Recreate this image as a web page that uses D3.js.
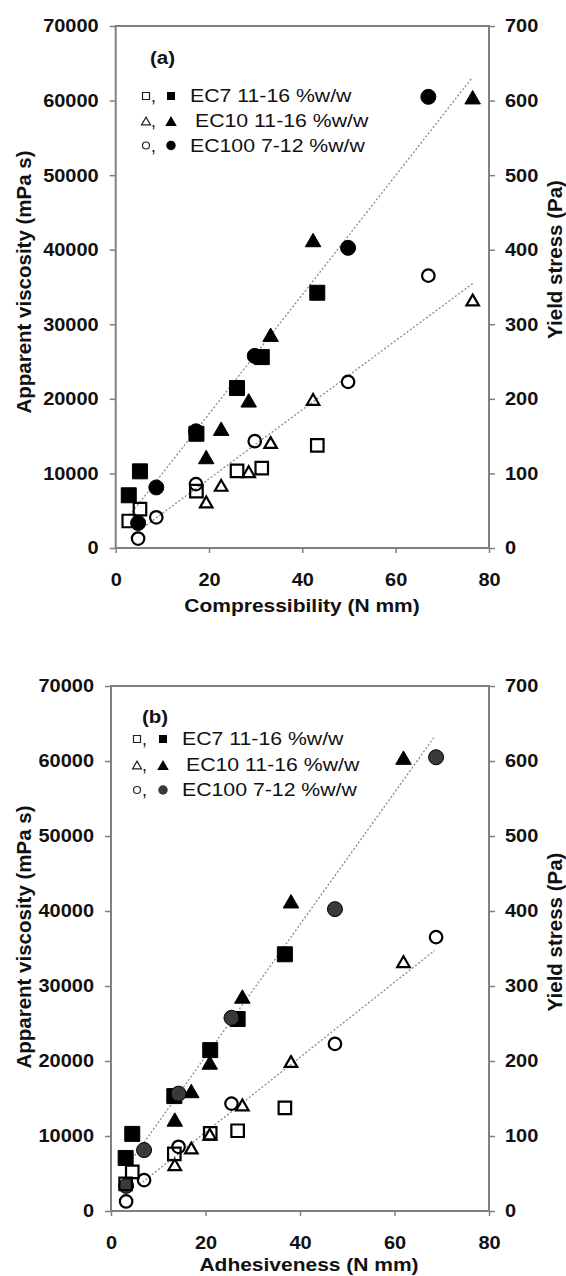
<!DOCTYPE html>
<html>
  <head>
    <meta charset="utf-8">
    <title>Viscosity and yield stress vs texture</title>
    <script src="https://cdn.jsdelivr.net/npm/d3@7"></script>
    <style>
      body { margin: 0; background: #fff; }
      text { font-family: "Liberation Sans", Arial, sans-serif; fill: #111; }
    </style>
  </head>
  <body>
    <div id="chart"></div>
    <script>
      // ---- data ----
      // x values, per ethylcellulose grade (same six samples in both panels)
      const compEC7 = [2.8, 5.2, 17.3, 26.0, 31.3, 43.2];
      const compEC10 = [19.4, 22.6, 28.5, 33.2, 42.3, 76.5];
      const compEC100 = [4.8, 8.7, 17.2, 29.8, 49.8, 67.0];
      const adhEC7 = [3.1, 4.5, 13.4, 21.0, 26.8, 36.8];
      const adhEC10 = [13.5, 17.0, 20.9, 27.8, 38.1, 61.9];
      const adhEC100 = [3.2, 7.0, 14.3, 25.5, 47.4, 68.8];
      // apparent viscosity (mPa s) - filled markers, left axis
      const viscEC7 = [7070, 10280, 15320, 21450, 25600, 34230];
      const viscEC10 = [12200, 16000, 19800, 28600, 41300, 60450];
      const viscEC100 = [3350, 8120, 15650, 25760, 40250, 60500];
      // yield stress (Pa) - open markers, right axis
      const yieldEC7 = [36.2, 52.2, 76.2, 103.5, 107, 137.6];
      const yieldEC10 = [61.8, 84, 102.3, 141.4, 199.3, 332.5];
      const yieldEC100 = [12.7, 41.2, 85.6, 143.2, 222.8, 365.2];
      // dotted trend lines, end points [x, y]
      const fitViscA = [[3, 4400], [76.3, 63000]];
      const fitYieldA = [[4.5, 21], [76.6, 355]];
      const fitViscB = [[4.5, 6960], [68.5, 63280]];
      const fitYieldB = [[6, 35], [68.5, 347.5]];
      // axes
      const xTicks = [0, 20, 40, 60, 80];
      const viscTicks = [0, 10000, 20000, 30000, 40000, 50000, 60000, 70000];
      const yieldTicks = [0, 100, 200, 300, 400, 500, 600, 700];
      const legendLabels = ["EC7 11-16 %w/w", "EC10 11-16 %w/w", "EC100 7-12 %w/w"];
      const shapes = ["square", "triangle", "circle"];

      const svg = d3.select("#chart").append("svg")
        .attr("width", 566)
        .attr("height", 1276);
      svg.append("rect").attr("width", 566).attr("height", 1276).attr("fill", "#fff");

      // the scanned figure has horizontally widened lettering
      function stretch(sel, sx) {
        sel.each(function() {
          const t = d3.select(this);
          const x = +t.attr("x") || 0;
          const y = +t.attr("y") || 0;
          t.attr("x", 0).attr("y", 0)
            .attr("transform", `translate(${x},${y}) scale(${sx},1)`);
        });
      }

      function symbolPath(shape, s) {
        if (shape === "square") return d3.symbol(d3.symbolSquare, s * s)();
        if (shape === "triangle") return d3.symbol(d3.symbolTriangle, Math.sqrt(3) / 4 * s * s)();
        return d3.symbol(d3.symbolCircle, Math.PI * s * s / 4)();
      }
      // triangle centroid sits below its box centre
      function triShift(shape, s) {
        return shape === "triangle" ? s * Math.sqrt(3) / 12 : 0;
      }

      const panels = [
        {
          tag: "(a)", xTitle: "Compressibility (N mm)",
          xs: [compEC7, compEC10, compEC100],
          fits: [fitViscA, fitYieldA],
          l: 115.7, r: 489, t: 26, b: 548,
          tagX: 150, tagY: 64,
          legX: [146, 171], legTextX: [190, 195, 190], legY: [102, 127, 151.5],
          xTitleX: 302, xTitleY: 612,
          yTitleY: 282, rTitleY: 259.5,
          circleFill: "#000"
        },
        {
          tag: "(b)", xTitle: "Adhesiveness (N mm)",
          xs: [adhEC7, adhEC10, adhEC100],
          fits: [fitViscB, fitYieldB],
          l: 111, r: 489, t: 686, b: 1211,
          tagX: 142, tagY: 723,
          legX: [137, 163], legTextX: [182, 186, 182], legY: [745, 771, 796],
          xTitleX: 309, xTitleY: 1270.5,
          yTitleY: 937, rTitleY: 932,
          circleFill: "#3a3a3a"
        }
      ];

      const visc = [viscEC7, viscEC10, viscEC100];
      const yieldS = [yieldEC7, yieldEC10, yieldEC100];

      panels.forEach(drawPanel);

      function drawPanel(p) {
        const g = svg.append("g");
        const x = d3.scaleLinear().domain([0, 80]).range([p.l, p.r]);
        const yL = d3.scaleLinear().domain([0, 70000]).range([p.b, p.t]);
        const yR = d3.scaleLinear().domain([0, 700]).range([p.b, p.t]);

        // axes
        const axB = g.append("g").attr("transform", `translate(0,${p.b})`)
          .call(d3.axisBottom(x).tickValues(xTicks).tickSize(5).tickPadding(20));
        const axL = g.append("g").attr("transform", `translate(${p.l},0)`)
          .call(d3.axisLeft(yL).tickValues(viscTicks).tickSize(6).tickPadding(11).tickFormat(d3.format("d")));
        const axR = g.append("g").attr("transform", `translate(${p.r},0)`)
          .call(d3.axisRight(yR).tickValues(yieldTicks).tickSize(6).tickPadding(10).tickFormat(d3.format("d")));
        [axB, axL, axR].forEach(function(a) {
          a.select(".domain").remove();
          a.selectAll("line").attr("stroke", "#808080").attr("stroke-width", 1.5);
          a.selectAll("text")
            .attr("font-size", 18.5)
            .attr("font-weight", "bold")
            .attr("fill", "#111");
          stretch(a.selectAll("text"), 1.08);
        });

        // frame
        g.append("rect")
          .attr("x", p.l).attr("y", p.t)
          .attr("width", p.r - p.l).attr("height", p.b - p.t)
          .attr("fill", "none")
          .attr("stroke", "#808080")
          .attr("stroke-width", 2);

        // trend lines
        const lineL = d3.line().x(d => x(d[0])).y(d => yL(d[1]));
        const lineR = d3.line().x(d => x(d[0])).y(d => yR(d[1]));
        [lineL(p.fits[0]), lineR(p.fits[1])].forEach(function(d) {
          g.append("path")
            .attr("d", d)
            .attr("fill", "none")
            .attr("stroke", "#8a8a8a")
            .attr("stroke-width", 1.3)
            .attr("stroke-dasharray", "2,2");
        });

        // filled markers: apparent viscosity
        shapes.forEach(function(shape, i) {
          const s = shape === "triangle" ? 15.5 : 15;
          g.selectAll(null)
            .data(p.xs[i].map((v, j) => [v, visc[i][j]]))
            .join("path")
              .attr("d", symbolPath(shape, s))
              .attr("transform", d => `translate(${x(d[0])},${yL(d[1]) + triShift(shape, s)})`)
              .attr("fill", shape === "circle" ? p.circleFill : "#000")
              .attr("stroke", "#000")
              .attr("stroke-width", 1);
        });
        // open markers: yield stress
        shapes.forEach(function(shape, i) {
          const s = 12.5;
          g.selectAll(null)
            .data(p.xs[i].map((v, j) => [v, yieldS[i][j]]))
            .join("path")
              .attr("d", symbolPath(shape, s))
              .attr("transform", d => `translate(${x(d[0])},${yR(d[1]) + triShift(shape, s)})`)
              .attr("fill", "none")
              .attr("stroke", "#000")
              .attr("stroke-width", 2.2);
        });

        // panel tag
        g.append("text")
          .attr("x", p.tagX).attr("y", p.tagY)
          .attr("font-size", 19)
          .attr("font-weight", "bold")
          .text(p.tag)
          .call(stretch, 1.08);

        // legend
        shapes.forEach(function(shape, i) {
          const cy = p.legY[i] - 6;
          const so = shape === "triangle" ? 9 : 7;
          const sf = shape === "triangle" ? 11.5 : shape === "circle" ? 9.5 : 8;
          g.append("path")
            .attr("d", symbolPath(shape, so))
            .attr("transform", `translate(${p.legX[0]},${cy + triShift(shape, so)})`)
            .attr("fill", "none")
            .attr("stroke", "#222")
            .attr("stroke-width", 1.2);
          g.append("text")
            .attr("x", p.legX[0] + 5).attr("y", p.legY[i])
            .attr("font-size", 17.5)
            .text(",");
          g.append("path")
            .attr("d", symbolPath(shape, sf))
            .attr("transform", `translate(${p.legX[1]},${cy + triShift(shape, sf)})`)
            .attr("fill", shape === "circle" ? p.circleFill : "#000");
          g.append("text")
            .attr("x", p.legTextX[i]).attr("y", p.legY[i])
            .attr("font-size", 17.5)
            .text(legendLabels[i])
            .call(stretch, 1.215);
        });

        // axis titles
        g.append("text")
          .attr("x", p.xTitleX).attr("y", p.xTitleY)
          .attr("text-anchor", "middle")
          .attr("font-size", 18.5)
          .attr("font-weight", "bold")
          .text(p.xTitle)
          .call(stretch, 1.135);
        g.append("text")
          .attr("transform", `translate(23.5,${p.yTitleY}) rotate(-90)`)
          .attr("dy", "0.35em")
          .attr("text-anchor", "middle")
          .attr("font-size", 20.5)
          .attr("font-weight", "bold")
          .text("Apparent viscosity (mPa s)");
        g.append("text")
          .attr("transform", `translate(555,${p.rTitleY}) rotate(-90)`)
          .attr("dy", "0.35em")
          .attr("text-anchor", "middle")
          .attr("font-size", 20.5)
          .attr("font-weight", "bold")
          .text("Yield stress (Pa)");
      }
    </script>
  </body>
</html>
